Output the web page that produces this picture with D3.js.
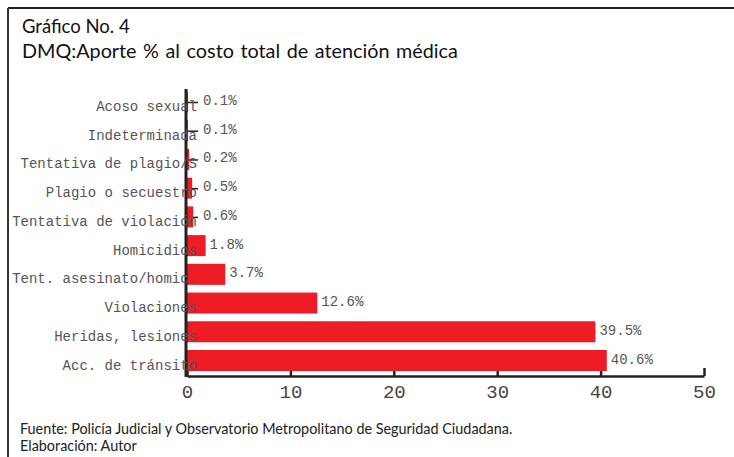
<!DOCTYPE html>
<html><head><meta charset="utf-8">
<script src="https://cdn.jsdelivr.net/npm/d3@7"></script>
<style>
html,body{margin:0;padding:0;background:#fff;}
svg{display:block;}
</style></head>
<body><svg id="chart" width="734" height="457"></svg>
<script>
const categories = ["Acoso sexual","Indeterminada","Tentativa de plagio/S","Plagio o secuestro","Tentativa de violación","Homicidios","Tent. asesinato/homic.","Violaciones","Heridas, lesiones","Acc. de tránsito"];
const values = [0.1,0.1,0.2,0.5,0.6,1.8,3.7,12.6,39.5,40.6];
const xTicks = [0,10,20,30,40,50];
const titleLines = ["Gráfico No. 4","DMQ:Aporte % al costo total de atención médica"];
const footerLines = ["Fuente: Policía Judicial y Observatorio Metropolitano de Seguridad Ciudadana.","Elaboración: Autor"];

const svg = d3.select("#chart");
const mono = "'Liberation Mono','DejaVu Sans Mono',monospace";
const sans = "Lato,'Open Sans',sans-serif";

// frame
svg.append("line").attr("x1",8).attr("x2",734).attr("y1",8).attr("y2",8).attr("stroke","#222").attr("stroke-width",2);
svg.append("line").attr("x1",8).attr("x2",8).attr("y1",8).attr("y2",457).attr("stroke","#333").attr("stroke-width",2);

svg.selectAll("text.title").data(titleLines).join("text").attr("class","title")
  .attr("x",22).attr("y",(d,i)=>33+i*25).attr("font-family",sans)
  .attr("font-size",(d,i)=>i===0?18.5:19.8).attr("word-spacing",(d,i)=>i===0?0:1.5)
  .attr("fill","#111").text(d=>d);
svg.selectAll("text.foot").data(footerLines).join("text").attr("class","foot")
  .attr("x",20).attr("y",(d,i)=>434+i*17).attr("font-family",sans).attr("font-size",14.4).attr("fill","#222").text(d=>d);

const x = d3.scaleLinear().domain([0,50]).range([187,704]);
const y = d3.scalePoint().domain(categories).range([102,360.5]);
const barH = 21;

// y axis ticks (inward)
const yAx = svg.append("g").attr("transform","translate(187,0)")
  .call(d3.axisLeft(y).tickSizeInner(-11).tickSizeOuter(0).tickFormat(""));
yAx.select(".domain").remove();
yAx.selectAll(".tick line").attr("stroke","#222").attr("stroke-width",1.5);

// bars
svg.selectAll("rect.bar").data(values).join("rect").attr("class","bar")
  .attr("x",x(0)).attr("y",(d,i)=>y(categories[i])-barH/2)
  .attr("width",d=>x(d)-x(0)).attr("height",barH).attr("fill","#ee1c25");

// value labels
svg.selectAll("text.val").data(values).join("text").attr("class","val")
  .attr("x",d=>Math.max(x(d)+4, x(0)+16)).attr("y",(d,i)=>y(categories[i])+3)
  .attr("font-family",mono).attr("font-size",14).attr("fill","#555").text(d=>d.toFixed(1)+"%");

// x axis
const xAx = svg.append("g").attr("transform","translate(0,376)")
  .call(d3.axisBottom(x).tickValues(xTicks).tickSizeInner(-5).tickSizeOuter(0).tickFormat(d3.format("d")));
xAx.select(".domain").attr("stroke","#222").attr("stroke-width",2.5);
xAx.selectAll(".tick line").attr("stroke","#222").attr("stroke-width",2.5).attr("y1",0).attr("y2",(d)=>d===50?-8:-5);
xAx.selectAll(".tick text").attr("y",9).attr("font-family",mono).attr("font-size",19).attr("fill","#444");

// y axis line
svg.append("line").attr("x1",186).attr("x2",186).attr("y1",89).attr("y2",377).attr("stroke","#222").attr("stroke-width",3);

// category labels (drawn on top, overlapping the axis as in the original)
svg.selectAll("text.cat").data(categories).join("text").attr("class","cat")
  .attr("x",197).attr("y",d=>y(d)+9).attr("text-anchor","end")
  .attr("font-family",mono).attr("font-size",14).attr("fill","#555").text(d=>d);
</script></body></html>
